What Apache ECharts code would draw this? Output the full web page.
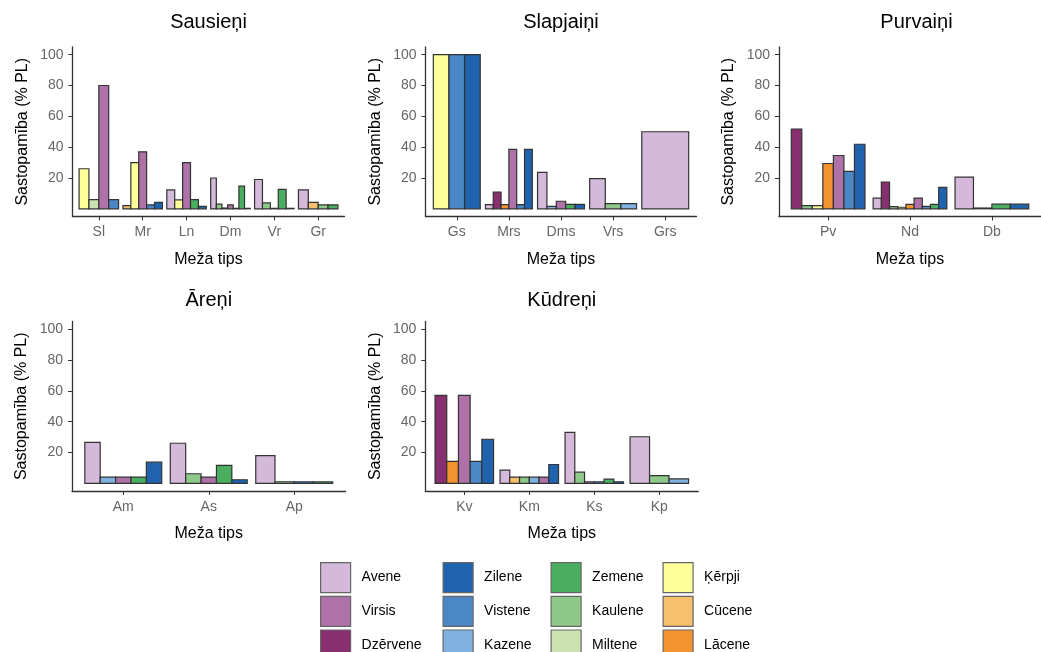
<!DOCTYPE html>
<html><head><meta charset="utf-8">
<script src="https://cdn.jsdelivr.net/npm/echarts@6/dist/echarts.min.js"></script>
<style>html,body{margin:0;padding:0;background:#fff}#c{width:1041px;height:652px}</style>
</head><body><div id="c"></div>
<script>
// ---- data ----
const species = ['Avene','Virsis','Dzērvene','Zilene','Vistene','Kazene','Zemene','Kaulene','Miltene','Ķērpji','Cūcene','Lācene'];
const speciesColors = ['#d4b9da','#ae72a8','#88306f','#1f63af','#4b86c6','#7fb2e0','#49ae5f','#8ec98a','#cbe3b1','#ffff99','#f6c06c','#f3922f'];
const yTicks = [20,40,60,80,100];

const sausieniTypes = ['Sl','Mr','Ln','Dm','Vr','Gr'];
const sausieniBars = [
  [['Ķērpji',26],['Miltene',6],['Virsis',80],['Vistene',6]],
  [['Cūcene',2],['Ķērpji',30],['Virsis',37],['Vistene',2.5],['Zilene',4.2]],
  [['Avene',12.3],['Ķērpji',5.8],['Virsis',30],['Zemene',6],['Zilene',1.6]],
  [['Avene',20],['Kaulene',3],['Kazene',0.5],['Virsis',2.5],['Vistene',0.3],['Zemene',14.7],['Zilene',0.3]],
  [['Avene',19],['Kaulene',3.8],['Virsis',0.3],['Zemene',12.6],['Zilene',0.3]],
  [['Avene',12.3],['Cūcene',4.2],['Kaulene',2.5],['Zemene',2.5]]
];
const slapjainiTypes = ['Gs','Mrs','Dms','Vrs','Grs'];
const slapjainiBars = [
  [['Ķērpji',100],['Vistene',100],['Zilene',100]],
  [['Avene',2.7],['Dzērvene',10.8],['Lācene',2.7],['Virsis',38.6],['Vistene',2.7],['Zilene',38.6]],
  [['Avene',23.7],['Kazene',1.6],['Virsis',4.9],['Zemene',2.9],['Zilene',2.9]],
  [['Avene',19.6],['Kaulene',3.4],['Kazene',3.4]],
  [['Avene',50]]
];
const purvainiTypes = ['Pv','Nd','Db'];
const purvainiBars = [
  [['Dzērvene',51.8],['Kaulene',2],['Ķērpji',2],['Lācene',29.4],['Virsis',34.6],['Vistene',24.3],['Zilene',41.9]],
  [['Avene',6.9],['Dzērvene',17.4],['Kaulene',1.4],['Ķērpji',1],['Lācene',2.9],['Virsis',6.9],['Vistene',1.6],['Zemene',2.9],['Zilene',13.9]],
  [['Avene',20.6],['Vistene',0.5],['Zemene',3],['Zilene',3]]
];
const areniTypes = ['Am','As','Ap'];
const areniBars = [
  [['Avene',26.5],['Kazene',4],['Virsis',4],['Zemene',4],['Zilene',13.7]],
  [['Avene',26],['Kaulene',6.2],['Virsis',4],['Zemene',11.6],['Zilene',2.3]],
  [['Avene',18],['Kaulene',1],['Vistene',1],['Zemene',1]]
];
const kudreniTypes = ['Kv','Km','Ks','Kp'];
const kudreniBars = [
  [['Dzērvene',57],['Lācene',14.2],['Virsis',57],['Vistene',14.2],['Zilene',28.6]],
  [['Avene',8.5],['Cūcene',4],['Kaulene',4],['Kazene',4],['Virsis',4],['Zilene',12.2]],
  [['Avene',33],['Kaulene',7.2],['Virsis',1],['Vistene',1],['Zemene',2.7],['Zilene',1]],
  [['Avene',30.2],['Kaulene',5],['Kazene',2.9]]
];

const panelTitles = ['Sausieņi','Slapjaiņi','Purvaiņi','Āreņi','Kūdreņi'];
const panelTypes = [sausieniTypes, slapjainiTypes, purvainiTypes, areniTypes, kudreniTypes];
const panelBars = [sausieniBars, slapjainiBars, purvainiBars, areniBars, kudreniBars];
const yName = 'Sastopamība (% PL)';
const xName = 'Meža tips';

// ---- layout ----
const grids = [
  {left:72.5, top:47, width:272, height:169.5},
  {left:425.5, top:47, width:271, height:169.5},
  {left:779, top:47, width:275, height:169.5},
  {left:72, top:321.5, width:273.5, height:169.5},
  {left:425.3, top:321.5, width:273, height:169.5}
];
const titleY = [22, 22, 22, 300, 300];
const FONT = 'Liberation Sans, Arial, sans-serif';

const chart = echarts.init(document.getElementById('c'), null, {renderer:'canvas'});
const xAxes = [], yAxes = [], series = [], graphics = [];

panelTypes.forEach((types, p) => {
  const n = types.length;
  const idx = types.map((_, i) => i + 1);
  xAxes.push({
    gridIndex: p, type: 'value', min: 0.4, max: n + 0.6,
    name: xName, nameLocation: 'middle', nameGap: 35,
    nameTextStyle: {fontSize: 16, color: '#000', fontFamily: FONT},
    axisLine: {show: true, onZero: false, lineStyle: {color: '#333', width: 1.3}},
    axisTick: {show: true, customValues: idx, length: 4, lineStyle: {color: '#333'}},
    axisLabel: {customValues: idx, formatter: v => types[Math.round(v) - 1], fontSize: 14, color: '#666', margin: 9, fontFamily: FONT},
    splitLine: {show: false}
  });
  yAxes.push({
    gridIndex: p, type: 'value', min: -5, max: 105,
    name: yName, nameLocation: 'middle', nameGap: 42, nameRotate: 90,
    nameTextStyle: {fontSize: 16, color: '#000', fontFamily: FONT},
    axisLine: {show: true, onZero: false, lineStyle: {color: '#333', width: 1.3}},
    axisTick: {show: true, customValues: yTicks, length: 4, lineStyle: {color: '#333'}},
    axisLabel: {customValues: yTicks, fontSize: 14, color: '#666', margin: 9, fontFamily: FONT},
    splitLine: {show: false}
  });
  const data = [];
  panelBars[p].forEach((group, ci) => {
    group.forEach((b, si) => {
      data.push([ci + 1, b[1], si, group.length, species.indexOf(b[0])]);
    });
  });
  series.push({
    type: 'custom', xAxisIndex: p, yAxisIndex: p, data: data, silent: true,
    encode: {x: 0, y: 1},
    renderItem: (params, api) => {
      const c = api.value(0), v = api.value(1), s = api.value(2), m = api.value(3), sp = api.value(4);
      const w = 0.9 / m;
      const l = c - 0.45 + s * w;
      const p1 = api.coord([l, v]);
      const p0 = api.coord([l + w, 0]);
      return {
        type: 'rect',
        shape: {x: p1[0], y: p1[1], width: p0[0] - p1[0], height: p0[1] - p1[1]},
        style: {fill: speciesColors[sp], stroke: '#333', lineWidth: 1.2}
      };
    }
  });
  const g = grids[p];
  graphics.push({
    type: 'text', x: g.left + g.width / 2, y: titleY[p],
    style: {text: panelTitles[p], font: '20px ' + FONT, fill: '#000', align: 'center', verticalAlign: 'middle'}
  });
});

// legend carrier series
species.forEach((s, i) => {
  series.push({type: 'bar', name: s, xAxisIndex: 0, yAxisIndex: 0, data: [],
    itemStyle: {color: speciesColors[i], borderColor: '#666', borderWidth: 1}});
});

const legendCols = [[0,1,2],[3,4,5],[6,7,8],[9,10,11]];
const legendLeft = [320, 442.5, 550.5, 662.5];
const legends = legendCols.map((col, k) => ({
  orient: 'vertical', left: legendLeft[k], top: 562, height: 200, padding: 0,
  itemWidth: 30, itemHeight: 30, itemGap: 2.5, icon: 'rect', selectedMode: false,
  data: col.map(i => species[i]),
  itemStyle: {borderColor: '#666', borderWidth: 1.2},
  textStyle: {fontSize: 14, color: '#000', fontFamily: FONT, padding: [0,0,0,6]}
}));

chart.setOption({
  animation: false,
  grid: grids.map(g => Object.assign({containLabel: false}, g)),
  xAxis: xAxes, yAxis: yAxes, series: series, legend: legends,
  graphic: graphics
});
</script></body></html>
